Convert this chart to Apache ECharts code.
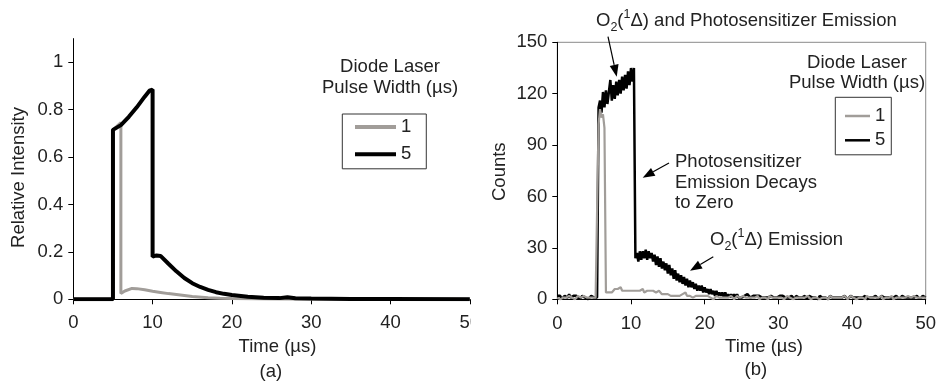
<!DOCTYPE html>
<html>
<head>
<meta charset="utf-8">
<script src="https://cdn.jsdelivr.net/npm/echarts@6.0.0/dist/echarts.min.js"></script>
<style>
  html, body { margin: 0; padding: 0; background: #fff; }
  #main { width: 939px; height: 382px; }
</style>
</head>
<body>
<div id="main"></div>
<script>
// (a) relative intensity at the break points
const timeA1 = [0, 5, 5, 6, 6, 6.5, 7.4, 8, 9, 10, 11, 12, 13.5, 15, 17, 18.5, 20, 25, 30, 50];
const relA1 = [0, 0, 0.715, 0.745, 0.025, 0.035, 0.046, 0.045, 0.04, 0.034, 0.029, 0.024, 0.018, 0.012, 0.007, 0.004, 0.003, 0.001, 0, 0];
const timeA5 = [0, 5, 5, 6, 7, 8, 9, 9.6, 10, 10, 10.5, 11, 12, 13, 14, 15, 16, 17, 18, 19, 20, 22, 24, 26, 27, 28, 30, 35, 40, 50];
const relA5 = [0, 0, 0.715, 0.735, 0.77, 0.81, 0.855, 0.88, 0.885, 0.18, 0.185, 0.183, 0.15, 0.118, 0.09, 0.068, 0.052, 0.04, 0.03, 0.023, 0.018, 0.011, 0.007, 0.005, 0.009, 0.004, 0.003, 0.001, 0.001, 0];

// (b) raw counts, one sample every 0.2 us starting at t = 0
const SAMPLE_STEP = 0.2;
const countsB1 = [
  1,2,0,1,1,2,1,0,2,1, 1,2,0,1,2,1,1,0,2,1, 1,2,1,0,1,2,1,1,
  102,111,106,108,100,
  4,
  3,4,5,4,5,6,5,6,5,7, 5,6,5,6,5,6,5,6,5,6, 5,6,5,5,6,4,5,5,4,5,
  4,5,4,4,3,5,4,3,4,3, 4,3,3,2,3,2,3,2,3,2, 2,3,2,4,2,3,2,2,1,2,
  2,1,2,1,2,1,2,
  1,2,1,1,2,0,1,2,1,1, 2,1,0,1,2,1,1,2,1,0, 1,2,1,1,0,2,1,1,2,1,
  0,1,2,1,1,2,0,1,1,2, 1,1,0,2,1,1,2,1,0,1, 2,1,1,0,1,2,1,1,2,0,
  1,1,2,1,0,1,2,1,1,2, 1,0,1,1,2,1,2,0,1,1, 2,1,1,0,2,1,1,2,1,0,
  1,2,1,1,2,1,0,1,2,1, 1,2,0,1,1,2,1,1,0,2, 1,1,2,1,0,1,2,1,1,2,
  0,1,1,2,1,1,2,0,1,1, 2,1,0,1,2,1,1,2,1,1, 0,2,1,1,2,1,0,1,2,1
];
const countsB5 = [
  2,1,2,0,1,2,1,1,3,1, 0,2,1,2,1,0,1,2,1,1, 2,0,1,2,1,1,2,1,
  112,
  116,109,121,112,122,114,121,128,116,125, 117,127,119,128,120,130,122,131,123,133, 125,135,127,135,
  24,
  27,22,28,23,28,24,29,23,28,24, 27,22,26,20,25,19,24,18,22,17,
  21,15,20,14,18,12,17,11,15,10, 14,9,13,8,12,7,11,7,10,6,
  9,5,8,5,8,4,7,4,6,3, 6,3,5,2,5,2,4,2,4,1,
  4,1,3,1,3,1,3,1,3,1, 2,1,
  2,2,1,3,2,1,2,2,1,2, 1,2,3,1,2,1,2,1,1,2, 2,1,2,1,1,2,1,2,1,1,
  2,1,1,2,1,0,2,1,1,2, 1,1,2,0,1,2,1,1,2,1, 1,0,2,1,1,2,1,1,0,2,
  1,1,2,1,0,1,2,1,1,2, 1,0,1,2,1,1,2,1,0,1, 2,1,1,2,0,1,1,2,1,1,
  2,1,0,1,2,1,1,2,1,0, 1,2,1,1,2,1,0,1,2,1, 1,2,1,0,1,2,1,1,2,1,
  0,1,2,1,1
];

const legendNames = ['1', '5'];
const yTicksA = [0, 0.2, 0.4, 0.6, 0.8, 1];

const FONT = 'Liberation Sans, Arial, sans-serif';
const FS = 18.5;
const TXT = '#222';
const GRAY = '#a19d99';

const zip = (ts, ys) => ts.map((t, i) => [t, ys[i]]);
const sampled = ys => ys.map((v, i) => [+(i * SAMPLE_STEP).toFixed(1), v]);

function text(x, y, str, extra, rot) {
  return {
    type: 'text', x: x, y: y, z: 50, rotation: rot || 0,
    style: Object.assign({
      text: str, fontSize: FS, fontFamily: FONT, fill: TXT,
      align: 'center', verticalAlign: 'middle'
    }, extra || {})
  };
}

// arrow = thin line + filled head at (x2, y2)
function arrow(x1, y1, x2, y2) {
  const a = Math.atan2(y2 - y1, x2 - x1), L = 12, W = 4.5;
  const bx = x2 - L * Math.cos(a), by = y2 - L * Math.sin(a);
  const nx = -Math.sin(a) * W, ny = Math.cos(a) * W;
  return [
    { type: 'line', z: 50, shape: { x1: x1, y1: y1, x2: bx, y2: by }, style: { stroke: '#000', lineWidth: 1.2 } },
    { type: 'polygon', z: 50, shape: { points: [[x2, y2], [bx + nx, by + ny], [bx - nx, by - ny]] }, style: { fill: '#000' } }
  ];
}

const o2rich = {
  sub: { fontSize: 12.5, fontFamily: FONT, fill: TXT, lineHeight: 12, verticalAlign: 'bottom' },
  sup: { fontSize: 12.5, fontFamily: FONT, fill: TXT, lineHeight: 13, verticalAlign: 'top' }
};

const axisCommon = {
  axisLine: { lineStyle: { color: '#000', width: 1 } },
  axisTick: { length: 5, lineStyle: { color: '#000' } },
  splitLine: { show: false },
  axisLabel: { fontSize: FS, fontFamily: FONT, color: TXT }
};

const chart = echarts.init(document.getElementById('main'), null, { renderer: 'canvas' });
chart.setOption({
  animation: false,
  textStyle: { fontFamily: FONT },
  grid: [
    { left: 73.3, top: 38.6, width: 396.5, height: 260.7 },
    { left: 557.3, top: 42.3, width: 376, height: 257, show: true, borderColor: '#8a8a8a', borderWidth: 1 }
  ],
  xAxis: [
    Object.assign({}, axisCommon, { gridIndex: 0, type: 'value', min: 0, max: 50, interval: 10,
      axisLabel: Object.assign({}, axisCommon.axisLabel, { margin: 14 }) }),
    Object.assign({}, axisCommon, { gridIndex: 1, type: 'value', min: 0, max: 50, interval: 10,
      axisLabel: Object.assign({}, axisCommon.axisLabel, { margin: 15.5 }) })
  ],
  yAxis: [
    Object.assign({}, axisCommon, { gridIndex: 0, type: 'value', min: 0, max: 1.1,
      axisTick: Object.assign({}, axisCommon.axisTick, { customValues: yTicksA }),
      axisLabel: Object.assign({}, axisCommon.axisLabel, { margin: 10, customValues: yTicksA }) }),
    Object.assign({}, axisCommon, { gridIndex: 1, type: 'value', min: 0, max: 150, interval: 30,
      axisLabel: Object.assign({}, axisCommon.axisLabel, { margin: 10 }) })
  ],
  legend: [
    {
      data: legendNames, selectedMode: false, icon: 'rect', orient: 'vertical',
      left: 342.3, top: 114, padding: [3.5, 15, 5, 12.7], itemGap: 8.3,
      itemWidth: 41, itemHeight: 4, borderColor: '#333', borderWidth: 1,
      textStyle: { fontSize: FS, fontFamily: FONT, color: TXT }
    },
    {
      data: legendNames, selectedMode: false, icon: 'rect', orient: 'vertical',
      left: 835.3, top: 97.3, padding: [9.2, 6, 5, 9.7], itemGap: 5.3,
      itemWidth: 25, itemHeight: 2.5, borderColor: '#333', borderWidth: 1,
      textStyle: { fontSize: FS, fontFamily: FONT, color: TXT }
    }
  ],
  series: [
    { name: '1', type: 'line', xAxisIndex: 0, yAxisIndex: 0, data: zip(timeA1, relA1), symbol: 'none', z: 2,
      itemStyle: { color: GRAY }, lineStyle: { color: GRAY, width: 3, join: 'bevel' } },
    { name: '5', type: 'line', xAxisIndex: 0, yAxisIndex: 0, data: zip(timeA5, relA5), symbol: 'none', z: 3,
      itemStyle: { color: '#000' }, lineStyle: { color: '#000', width: 4, join: 'bevel' } },
    { name: '5', type: 'line', xAxisIndex: 1, yAxisIndex: 1, data: sampled(countsB5), symbol: 'none', z: 2,
      itemStyle: { color: '#000' }, lineStyle: { color: '#000', width: 2.5 } },
    { name: '1', type: 'line', xAxisIndex: 1, yAxisIndex: 1, data: sampled(countsB1), symbol: 'none', z: 3,
      itemStyle: { color: GRAY }, lineStyle: { color: GRAY, width: 2.2 } }
  ],
  graphic: [
    // panel (a)
    text(19, 177.5, 'Relative Intensity', {}, Math.PI / 2),
    text(277.5, 346.7, 'Time (µs)'),
    text(270.8, 371.7, '(a)'),
    text(390, 77.2, 'Diode Laser\nPulse Width (µs)', { lineHeight: 21 }),
    // crop edge: the left panel's last tick label is cut at the panel border
    { type: 'rect', z: 60, shape: { x: 470.6, y: 310, width: 12, height: 28 }, style: { fill: '#fff' } },
    // panel (b)
    text(500, 171.7, 'Counts', {}, Math.PI / 2),
    text(764, 346.7, 'Time (µs)'),
    text(755.8, 370, '(b)'),
    text(857, 73.3, 'Diode Laser\nPulse Width (µs)', { lineHeight: 20 }),
    text(596, 20.7, 'O{sub|2}({sup|1}Δ) and Photosensitizer Emission', { align: 'left', lineHeight: 26, rich: o2rich }),
    text(675, 182.8, 'Photosensitizer\nEmission Decays\nto Zero', { align: 'left', lineHeight: 20.5 }),
    text(710, 240, 'O{sub|2}({sup|1}Δ) Emission', { align: 'left', lineHeight: 26, rich: o2rich })
  ]
    .concat(arrow(608, 36.7, 616.7, 76.7))
    .concat(arrow(669, 163, 642.7, 177.7))
    .concat(arrow(713.3, 256.7, 690, 270.7))
});
</script>
</body>
</html>
